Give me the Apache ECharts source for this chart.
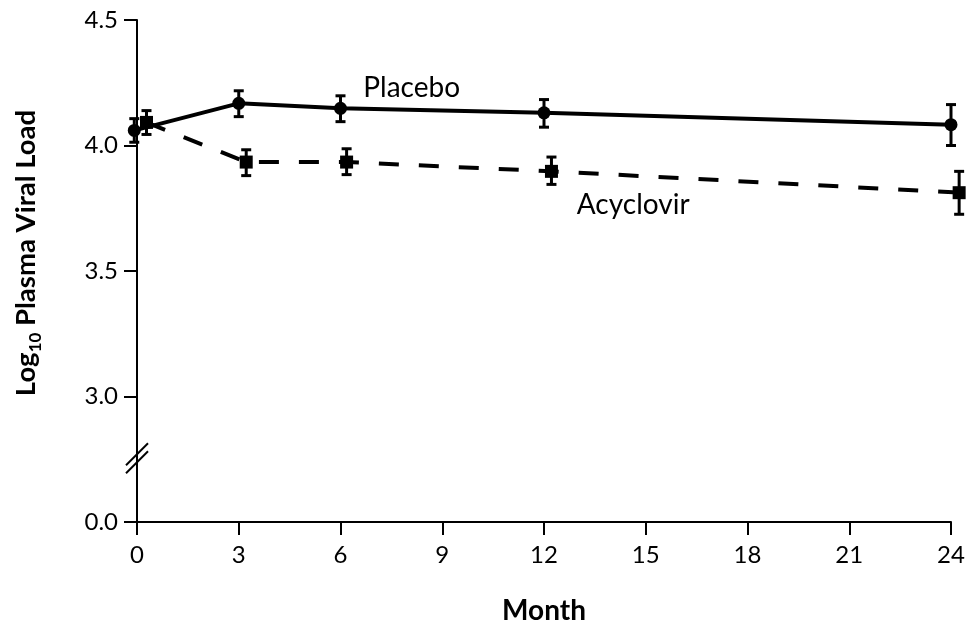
<!DOCTYPE html>
<html>
<head>
<meta charset="utf-8">
<script src="https://cdn.jsdelivr.net/npm/echarts@6/dist/echarts.min.js"></script>
<style>html,body{margin:0;padding:0;background:#fff;}#c{width:977px;height:631px;}</style>
</head>
<body>
<div id="c"></div>
<script>
// ---- data ----
const xTicks = [0, 3, 6, 9, 12, 15, 18, 21, 24];
const yTickLabels = { '2.5': '0.0', '3': '3.0', '3.5': '3.5', '4': '4.0', '4.5': '4.5' };
const placeboMonths = [-0.08, 3, 6, 12, 24];
const placeboMean = [4.06, 4.168, 4.148, 4.13, 4.083];
const placeboLow  = [4.013, 4.115, 4.095, 4.073, 4.0];
const placeboHigh = [4.107, 4.218, 4.198, 4.183, 4.163];
const acycMonths = [0.28, 3.22, 6.18, 12.22, 24.24];
const acycMean = [4.092, 3.934, 3.934, 3.897, 3.812];
const acycLow  = [4.044, 3.88, 3.884, 3.845, 3.726];
const acycHigh = [4.139, 3.983, 3.987, 3.954, 3.897];
const breakValue = 2.754;
const seriesLabels = { placebo: 'Placebo', acyclovir: 'Acyclovir' };
const labelAnchors = { placebo: [8.1, 4.23], acyclovir: [14.63, 3.762] };

const FONT = 'Lato';
const chart = echarts.init(document.getElementById('c'));

function errData(xs, lo, hi) { return xs.map((x, i) => [x, lo[i], hi[i]]); }
function errRender(params, api) {
  const x = api.value(0);
  const p1 = api.coord([x, api.value(1)]);
  const p2 = api.coord([x, api.value(2)]);
  const w = 5;
  const st = { stroke: '#000', lineWidth: 3 };
  return { type: 'group', children: [
    { type: 'line', shape: { x1: p1[0], y1: p1[1], x2: p2[0], y2: p2[1] }, style: st },
    { type: 'line', shape: { x1: p1[0]-w, y1: p1[1], x2: p1[0]+w, y2: p1[1] }, style: st },
    { type: 'line', shape: { x1: p2[0]-w, y1: p2[1], x2: p2[0]+w, y2: p2[1] }, style: st }
  ]};
}

chart.setOption({
  animation: false,
  backgroundColor: '#fff',
  grid: { left: 137, right: 26, top: 20, bottom: 109 },
  xAxis: {
    type: 'value', min: 0, max: 24, interval: 3,
    name: 'Month', nameLocation: 'middle', nameGap: 75,
    nameTextStyle: { fontFamily: FONT, fontWeight: 'bold', fontSize: 28, color: '#000' },
    axisLine: { lineStyle: { color: '#000', width: 2 } },
    axisTick: { show: true, inside: false, length: 13, lineStyle: { color: '#000', width: 2 } },
    axisLabel: { fontFamily: FONT, fontSize: 24, color: '#000', margin: 21,
      formatter: v => xTicks.includes(v) ? String(v) : '' },
    splitLine: { show: false }
  },
  yAxis: {
    type: 'value', min: 2.5, max: 4.5, interval: 0.5,
    axisLine: { show: true, lineStyle: { color: '#000', width: 2 } },
    axisTick: { show: true, inside: false, length: 13, lineStyle: { color: '#000', width: 2 } },
    axisLabel: { fontFamily: FONT, fontSize: 24, color: '#000', margin: 19,
      formatter: v => yTickLabels[String(v)] || '' },
    splitLine: { show: false }
  },
  series: [
    { type: 'custom', renderItem: errRender, data: errData(placeboMonths, placeboLow, placeboHigh), clip: false, z: 3 },
    { type: 'custom', renderItem: errRender, data: errData(acycMonths, acycLow, acycHigh), clip: false, z: 3 },
    {
      name: seriesLabels.placebo, type: 'line', clip: false, z: 4,
      data: placeboMonths.map((x, i) => [x, placeboMean[i]]),
      symbol: 'circle', symbolSize: 13,
      itemStyle: { color: '#000' },
      lineStyle: { color: '#000', width: 4 },
      markPoint: { symbol: 'circle', symbolSize: 0, data: [{ coord: labelAnchors.placebo }],
        label: { show: true, position: 'inside', formatter: seriesLabels.placebo, fontFamily: FONT, fontSize: 28, color: '#000' } }
    },
    {
      name: seriesLabels.acyclovir, type: 'line', clip: false, z: 4,
      data: acycMonths.map((x, i) => [x, acycMean[i]]),
      symbol: 'rect', symbolSize: 13,
      itemStyle: { color: '#000' },
      lineStyle: { color: '#000', width: 4, type: [20, 20] },
      markPoint: { symbol: 'circle', symbolSize: 0, data: [{ coord: labelAnchors.acyclovir }],
        label: { show: true, position: 'inside', formatter: seriesLabels.acyclovir, fontFamily: FONT, fontSize: 28, color: '#000' } }
    }
  ]
});

const bp = chart.convertToPixel({ gridIndex: 0 }, [0, breakValue]);
const gap = 4;
chart.setOption({
  graphic: [
    { type: 'line', shape: { x1: bp[0]-11, y1: bp[1]+gap+11, x2: bp[0]+11, y2: bp[1]+gap-11 }, style: { stroke: '#000', lineWidth: 2 }, z: 10 },
    { type: 'line', shape: { x1: bp[0]-11, y1: bp[1]-gap+11, x2: bp[0]+11, y2: bp[1]-gap-11 }, style: { stroke: '#000', lineWidth: 2 }, z: 10 },
    { type: 'text', x: 26, y: 253, rotation: Math.PI / 2,
      style: { text: '{b|Log}{s|10}{b| Plasma Viral Load}', align: 'center', verticalAlign: 'middle',
        rich: {
          b: { fontFamily: FONT, fontWeight: 'bold', fontSize: 27.5, fill: '#000', verticalAlign: 'bottom' },
          s: { fontFamily: FONT, fontWeight: 'bold', fontSize: 17, fill: '#000', verticalAlign: 'bottom', padding: [0, 0, -4, 0] }
        } } }
  ]
});
</script>
</body>
</html>
